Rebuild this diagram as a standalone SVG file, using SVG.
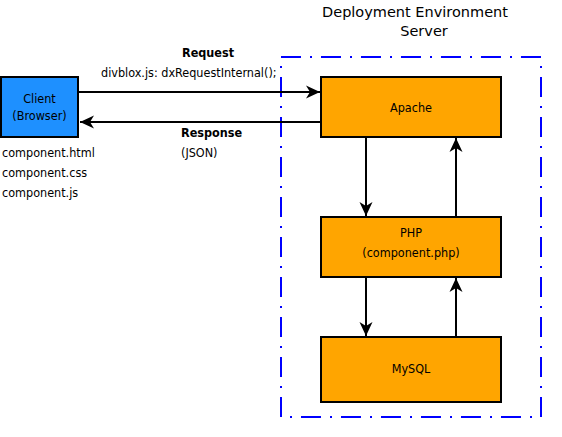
<svg xmlns="http://www.w3.org/2000/svg" width="562" height="437" viewBox="0 0 562 437">
<style>
  text { font-family: "DejaVu Sans Condensed", "DejaVu Sans", Verdana, sans-serif; font-size: 12.5px; fill: #000; }
  .c { text-anchor: middle; }
  .b { font-weight: bold; }
  .title { font-family: "DejaVu Sans", Verdana, sans-serif; font-size: 14.5px; }
  .box { stroke: #000; stroke-width: 2; }
  .srv { fill: #FFA500; }
  .cli { fill: #1E90FF; }
  .conn { stroke: #000; stroke-width: 2; fill: none; }
</style>
<defs>
  <marker id="arr" markerUnits="userSpaceOnUse" markerWidth="18" markerHeight="18" viewBox="-15 -9 18 18" refX="0" refY="0" orient="auto">
    <path d="M0,0 L-14,-6.5 L-10,0 L-14,6.5 Z" fill="#000"/>
  </marker>
</defs>
<rect x="281" y="57" width="260" height="360" fill="none" stroke="#0000FF" stroke-width="2" stroke-dasharray="20 9 2 9"/>
<text class="c title" x="415" y="17">Deployment Environment</text>
<text class="c title" x="424" y="36">Server</text>
<g id="client">
  <rect class="box cli" x="1" y="77" width="77" height="60"/>
  <text class="c" x="39.5" y="103">Client</text>
  <text class="c" x="39.5" y="120">(Browser)</text>
</g>
<g id="client-files">
  <text x="2" y="157">component.html</text>
  <text x="2" y="177">component.css</text>
  <text x="2" y="197">component.js</text>
</g>
<g id="apache">
  <rect class="box srv" x="321" y="77" width="180" height="60"/>
  <text class="c" x="411" y="111.5">Apache</text>
</g>
<g id="php">
  <rect class="box srv" x="321" y="217" width="180" height="60"/>
  <text class="c" x="411" y="236.5">PHP</text>
  <text class="c" x="411" y="256.5">(component.php)</text>
</g>
<g id="mysql">
  <rect class="box srv" x="321" y="337" width="180" height="65"/>
  <text class="c" x="411" y="373">MySQL</text>
</g>
<g id="connectors">
  <line class="conn" x1="79" y1="92" x2="320" y2="92" marker-end="url(#arr)"/>
  <line class="conn" x1="320" y1="122" x2="80" y2="122" marker-end="url(#arr)"/>
  <line class="conn" x1="366" y1="138" x2="366" y2="216" marker-end="url(#arr)"/>
  <line class="conn" x1="456" y1="216" x2="456" y2="138" marker-end="url(#arr)"/>
  <line class="conn" x1="366" y1="278" x2="366" y2="336" marker-end="url(#arr)"/>
  <line class="conn" x1="456" y1="336" x2="456" y2="278" marker-end="url(#arr)"/>
  <text class="c b" x="208" y="57">Request</text>
  <text x="101" y="77">divblox.js: dxRequestInternal();</text>
  <text class="b" x="181" y="137">Response</text>
  <text x="181" y="157">(JSON)</text>
</g>
</svg>
